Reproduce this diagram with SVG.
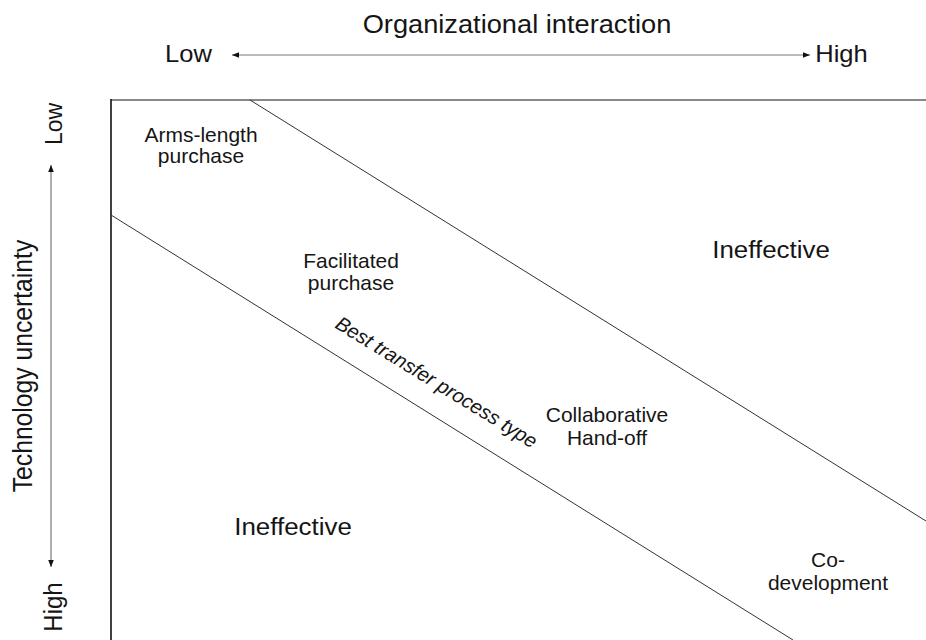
<svg xmlns="http://www.w3.org/2000/svg" width="926" height="640" viewBox="0 0 926 640">
<style>
text{font-family:"Liberation Sans",Arial,sans-serif;fill:#151515}
.ax{font-size:23px}
.lb{font-size:20px;text-anchor:middle}
.big{font-size:24px;text-anchor:middle}
.ln{fill:none;stroke:#333;stroke-width:1}
.arr{fill:none;stroke:#777;stroke-width:1.2}
</style>
<defs>
<marker id="ah" viewBox="0 0 10 10" refX="10" refY="5" markerWidth="7" markerHeight="7" markerUnits="userSpaceOnUse" orient="auto-start-reverse">
<path d="M0,1 L10,5 L0,9 Z" fill="#111"/>
</marker>
</defs>
<rect width="926" height="640" fill="#fff"/>

<g id="connectors">
<line class="arr" x1="232" y1="55" x2="810" y2="55" marker-start="url(#ah)" marker-end="url(#ah)"/>
<line class="arr" x1="51" y1="165" x2="51" y2="567" marker-start="url(#ah)" marker-end="url(#ah)"/>
<line x1="111" y1="100" x2="926" y2="100" stroke="#888" stroke-width="2"/>
<line x1="111" y1="99" x2="111" y2="640" stroke="#111" stroke-width="1.6"/>
<line class="ln" x1="250" y1="100" x2="926" y2="521"/>
<line class="ln" x1="111" y1="215" x2="793" y2="640"/>
</g>

<g id="axis-x">
<text class="ax" text-anchor="middle" font-size="25" transform="translate(517,33) scale(1.09,1)" style="font-size:25px">Organizational interaction</text>
<text class="ax" text-anchor="middle" transform="translate(188.5,62) scale(1.11,1)">Low</text>
<text class="ax" text-anchor="middle" transform="translate(841.5,62) scale(1.11,1)">High</text>
</g>

<g id="axis-y">
<text class="ax" text-anchor="middle" style="font-size:24.7px" transform="translate(32,366) rotate(-90) scale(1,1.1)">Technology uncertainty</text>
<text class="ax" text-anchor="middle" transform="translate(62,124) rotate(-90) scale(1,1.05)">Low</text>
<text class="ax" text-anchor="middle" style="font-size:24px" transform="translate(62,607) rotate(-90) scale(1,1.05)">High</text>
</g>

<g id="arms-length">
<text class="lb" transform="translate(201,142) scale(1.05,1)">Arms-length</text>
<text class="lb" transform="translate(201,163) scale(1.05,1)">purchase</text>
</g>

<g id="facilitated">
<text class="lb" transform="translate(351,268) scale(1.05,1)">Facilitated</text>
<text class="lb" transform="translate(351,290) scale(1.05,1)">purchase</text>
</g>

<g id="collaborative">
<text class="lb" transform="translate(607,422) scale(1.05,1)">Collaborative</text>
<text class="lb" transform="translate(607,445) scale(1.05,1)">Hand-off</text>
</g>

<g id="co-development">
<text class="lb" transform="translate(828,567) scale(1.05,1)">Co-</text>
<text class="lb" transform="translate(828,590) scale(1.05,1)">development</text>
</g>

<g id="ineffective-top">
<text class="big" transform="translate(771,258) scale(1.08,1)">Ineffective</text>
</g>

<g id="ineffective-bottom">
<text class="big" transform="translate(293,535) scale(1.08,1)">Ineffective</text>
</g>

<g id="best-transfer">
<text class="lb" style="font-style:italic" transform="translate(433,388) rotate(31.5)">Best transfer process type</text>
</g>
</svg>
